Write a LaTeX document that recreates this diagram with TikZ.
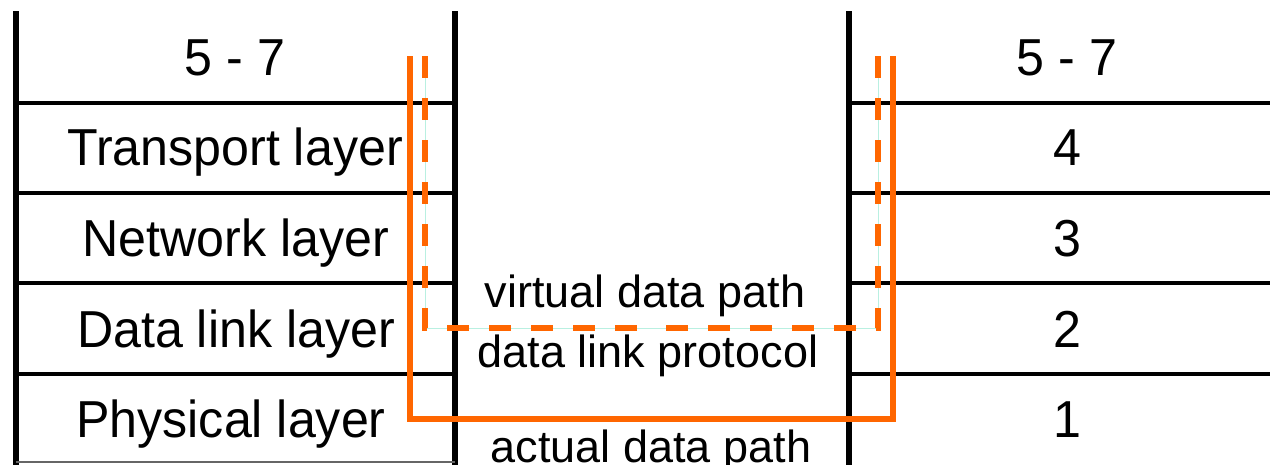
\documentclass[tikz,border=0pt]{standalone}
\usepackage{fontspec}
\setmainfont{Liberation Sans}
\newfontfamily\layerfont[FakeStretch=0.965]{Liberation Sans}
\definecolor{pathorange}{RGB}{255,102,0}
\definecolor{guidecyan}{RGB}{185,240,225}
\tikzset{
  stackline/.style={draw=black, line width=6pt},
  rowline/.style={draw=black, line width=4pt},
  layerlabel/.style={anchor=base, inner sep=0pt, font=\layerfont\fontsize{52}{60}\selectfont},
  pathlabel/.style={anchor=base, inner sep=0pt, font=\fontsize{45}{54}\selectfont},
  actualpath/.style={draw=pathorange, line width=6pt},
  virtualpath/.style={draw=pathorange, line width=6pt, dash pattern=on 22pt off 20pt},
  virtualguide/.style={draw=guidecyan, line width=1pt},
}
\begin{document}
\begin{tikzpicture}[x=1pt,y=-1pt]
\useasboundingbox (0,0) rectangle (1270,464);

% left protocol stack
\draw[stackline] (16,11) -- (16,470);
\draw[stackline] (455,11) -- (455,470);
\foreach \yy in {103,193,283,374}
  \draw[rowline] (16,\yy) -- (455,\yy);
\draw[draw=black!60, line width=2pt] (16,462) -- (455,462);

% right protocol stack
\draw[stackline] (849,11) -- (849,470);
\foreach \yy in {103,193,283,374}
  \draw[rowline] (849,\yy) -- (1275,\yy);

% layer names
\node[layerlabel] (l57)   at (235,75)  {5 - 7};
\node[layerlabel] (ltr)   at (235,165) {Transport layer};
\node[layerlabel] (lnet)  at (236,256) {Network layer};
\node[layerlabel] (ldl)   at (236,347) {Data link layer};
\node[layerlabel] (lphy)  at (231,437) {Physical layer};

\node[layerlabel] (r57)   at (1067,75)  {5 - 7};
\node[layerlabel] (r4)    at (1067,165) {4};
\node[layerlabel] (r3)    at (1067,256) {3};
\node[layerlabel] (r2)    at (1067,347) {2};
\node[layerlabel] (r1)    at (1067,437) {1};

% path corners
\coordinate (vtl) at (425,56);
\coordinate (vbl) at (425,328);
\coordinate (vbr) at (878,328);
\coordinate (vtr) at (878,56);
\coordinate (atl) at (409.5,56);
\coordinate (abl) at (409.5,418.5);
\coordinate (abr) at (893,418.5);
\coordinate (atr) at (893,56);

% virtual data path (data link protocol)
\draw[virtualguide] (vtl) -- (vbl) -- (vbr) -- (vtr);
\draw[virtualpath] (vtl) -- (vbl) -- (651,328);
\draw[virtualpath] (vtr) -- (vbr) -- (651,328);

% actual data path
\draw[actualpath] (atl) -- (abl) -- (abr) -- (atr);

% path labels
\node[pathlabel] (virt)  at (645,307) {virtual data path};
\node[pathlabel] (proto) at (648,367) {data link protocol};
\node[pathlabel] (act)   at (651,462) {actual data path};
\end{tikzpicture}
\end{document}
